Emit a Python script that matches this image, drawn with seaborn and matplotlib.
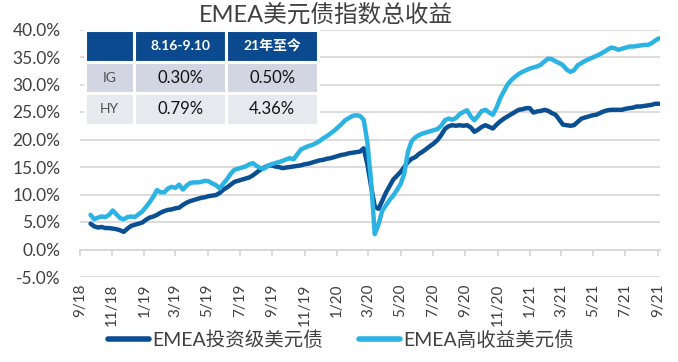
import numpy as np
import pandas as pd
import matplotlib
matplotlib.use("Agg")
import matplotlib.pyplot as plt
import seaborn as sns

# 周度数据 (2018-09-21 起, 每周五), 单位 %
fechas = pd.date_range("2018-09-21", periods=155, freq="7D")

ig_valores = [
    4.7, 4.2, 4.0, 4.1, 3.9, 3.9, 3.8, 3.7, 3.5, 3.2,
    3.8, 4.3, 4.5, 4.7, 4.9, 5.4, 5.8, 6.0, 6.3, 6.7,
    7.0, 7.2, 7.3, 7.5, 7.6, 8.1, 8.5, 8.8, 9.0, 9.2,
    9.4, 9.5, 9.7, 9.8, 9.9, 10.3, 10.9, 11.3, 11.8, 12.3,
    12.5, 12.7, 12.9, 13.1, 13.5, 14.0, 14.5, 14.9, 15.2, 15.3,
    15.1, 15.0, 14.8, 14.9, 15.0, 15.1, 15.2, 15.3, 15.5, 15.6,
    15.8, 16.0, 16.2, 16.3, 16.5, 16.6, 16.8, 17.0, 17.2, 17.3,
    17.5, 17.6, 17.7, 17.8, 18.4, 15.5, 11.5, 7.8, 7.4, 8.8,
    10.3, 11.5, 12.7, 13.4, 14.1, 15.0, 15.9, 16.5, 16.8, 17.4,
    17.8, 18.3, 18.8, 19.3, 19.9, 20.8, 21.9, 22.4, 22.6, 22.5,
    22.6, 22.5, 22.6, 22.2, 21.4, 21.8, 22.3, 22.6, 22.3, 22.0,
    22.7, 23.3, 23.8, 24.2, 24.6, 25.0, 25.4, 25.5, 25.7, 25.7,
    24.9, 25.1, 25.2, 25.4, 25.2, 24.8, 24.5, 23.6, 22.7, 22.6,
    22.5, 22.6, 23.2, 23.8, 24.0, 24.2, 24.4, 24.5, 24.8, 25.1,
    25.3, 25.4, 25.4, 25.4, 25.4, 25.6, 25.7, 25.8, 26.0, 26.0,
    26.1, 26.2, 26.3, 26.5, 26.5,
]

hy_valores = [
    6.3, 5.5, 5.8, 6.0, 5.9, 6.3, 7.1, 6.4, 5.7, 5.5,
    5.9, 6.0, 5.9, 6.4, 6.9, 7.7, 8.6, 9.6, 10.8, 10.4,
    10.4, 11.1, 11.4, 11.2, 11.8, 10.9, 11.6, 12.1, 12.2, 12.2,
    12.3, 12.5, 12.4, 12.0, 11.7, 11.1, 12.0, 12.8, 13.8, 14.5,
    14.7, 14.9, 15.1, 15.5, 15.7, 15.2, 14.8, 14.7, 15.2, 15.5,
    15.7, 15.9, 16.1, 16.4, 16.6, 16.4, 17.3, 18.2, 18.5, 18.8,
    19.0, 19.3, 19.7, 20.2, 20.6, 21.1, 21.6, 22.2, 22.8, 23.5,
    23.9, 24.3, 24.4, 24.3, 23.6, 19.5, 12.5, 2.8, 4.5, 7.0,
    8.0, 9.0, 9.8, 10.8, 11.9, 13.8, 17.8, 19.7, 20.4, 20.8,
    21.1, 21.3, 21.5, 21.7, 21.9, 22.5, 23.5, 23.8, 23.6, 23.9,
    24.6, 25.0, 25.3, 24.2, 23.5, 24.3, 25.2, 25.4, 24.9, 24.5,
    25.8, 27.5, 28.8, 30.0, 30.8, 31.4, 31.9, 32.3, 32.6, 32.9,
    33.1, 33.3, 33.6, 34.2, 34.7, 34.6, 34.2, 33.9, 33.5, 32.7,
    32.3, 32.6, 33.5, 33.9, 34.3, 34.6, 34.9, 35.2, 35.5, 35.9,
    36.3, 36.7, 36.6, 36.3, 36.5, 36.7, 36.9, 36.9, 37.0, 37.1,
    37.2, 37.2, 37.5, 38.0, 38.4,
]

series_nombres = ["EMEA投资级美元债", "EMEA高收益美元债"]
colores = ["#0a4f92", "#2bb3e3"]

# 表格
tabla_columnas = ["", "8.16-9.10", "21年至今"]
tabla_filas = ["IG", "HY"]
tabla_valores = [["0.30%", "0.50%"], ["0.79%", "4.36%"]]

titulo = "EMEA美元债指数总收益"

df = pd.concat(
    [
        pd.DataFrame({"fecha": fechas, "valor": ig_valores, "serie": series_nombres[0]}),
        pd.DataFrame({"fecha": fechas, "valor": hy_valores, "serie": series_nombres[1]}),
    ],
    ignore_index=True,
)

sns.set_theme(style="white")
plt.rcParams["font.family"] = ["Lato", "Noto Sans CJK SC"]

gris_texto = "#404040"
gris_rejilla = "#d9d9d9"

fig = plt.figure(figsize=(6.78, 3.62), dpi=100)
ax = fig.add_axes([80 / 678, 1 - 277 / 362, 580 / 678, 247.5 / 362])

sns.lineplot(
    data=df,
    x="fecha",
    y="valor",
    hue="serie",
    palette=colores,
    linewidth=3.2,
    ax=ax,
)

ax.set_ylim(-5, 40)
ax.set_xlim(pd.Timestamp("2018-09-01"), pd.Timestamp("2021-09-05"))
ax.set_yticks(np.arange(-5, 41, 5))
ax.set_yticklabels([f"{v:.1f}%" for v in np.arange(-5, 41, 5)])
ax.grid(axis="y", color=gris_rejilla, linewidth=1.3)
ax.set_axisbelow(True)
for lado in ["top", "right", "left", "bottom"]:
    ax.spines[lado].set_visible(False)

ticks_x = pd.date_range("2018-09-01", "2021-09-01", freq="2MS")
ax.set_xticks(ticks_x)
ax.set_xticklabels([f"{d.month}/{d.year % 100:02d}" for d in ticks_x], rotation=90)
ax.tick_params(axis="x", length=0, pad=5, labelsize=11, labelcolor=gris_texto)
ax.tick_params(axis="y", length=0, pad=14, labelsize=12.5, labelcolor=gris_texto)
ax.set_xlabel("")
ax.set_ylabel("")

# eje en 0 con marcas
eje_cero = ax.secondary_xaxis(5 / 45)
eje_cero.set_xticks(ticks_x)
eje_cero.tick_params(axis="x", direction="out", length=4, color=gris_rejilla, width=1.3, labelbottom=False)
eje_cero.spines["bottom"].set_color(gris_rejilla)
eje_cero.spines["bottom"].set_linewidth(1.3)

# tabla
celdas = [tabla_columnas] + [[f] + v for f, v in zip(tabla_filas, tabla_valores)]
tabla = ax.table(
    cellText=celdas,
    cellLoc="center",
    colWidths=[0.21, 0.39, 0.39],
    bbox=[0.0086, 0.614, 0.402, 0.384],
)
tabla.set_zorder(5)
tabla.auto_set_font_size(False)
for (fila, col), celda in tabla.get_celld().items():
    celda.set_edgecolor("white")
    celda.set_linewidth(2.2)
    texto = celda.get_text()
    if fila == 0:
        celda.set_facecolor("#0b4a8f")
        texto.set_color("white")
        texto.set_fontweight("bold")
        texto.set_fontsize(10)
    else:
        celda.set_facecolor("#d2d5e2" if fila == 1 else "#e8e9ef")
        if col == 0:
            texto.set_color("#505050")
            texto.set_fontsize(10)
        else:
            texto.set_color("#111111")
            texto.set_fontsize(12)

fig.suptitle(titulo, x=326 / 678, y=1 - 14 / 362, va="center", fontsize=17, color=gris_texto)

handles, labels = ax.get_legend_handles_labels()
ax.legend(
    handles,
    labels,
    loc="center",
    bbox_to_anchor=(341 / 678, 1 - 340 / 362),
    bbox_transform=fig.transFigure,
    ncol=2,
    frameon=False,
    fontsize=14,
    handlelength=2.1,
    handletextpad=0.15,
    columnspacing=1.9,
    labelcolor=gris_texto,
)
for linea in ax.get_legend().get_lines():
    linea.set_linewidth(4)

fig.savefig("out.png", dpi=100)
